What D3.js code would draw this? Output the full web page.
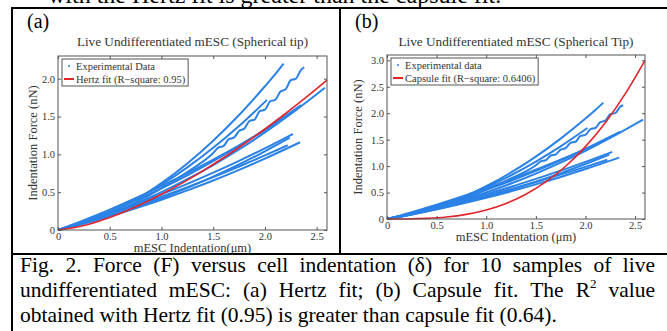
<!DOCTYPE html>
<html>
<head>
<meta charset="utf-8">
<script src="https://cdn.jsdelivr.net/npm/d3@7"></script>
<style>
  body { margin: 0; background: #fff; }
  svg { display: block; font-family: "Liberation Serif", "Times New Roman", serif; }
</style>
</head>
<body>
<svg id="chart" width="667" height="331"></svg>
<script>
// tick values and labels
const xTicks = [0, 0.5, 1.0, 1.5, 2.0, 2.5];
const xTickLabels = ["0", "0.5", "1.0", "1.5", "2.0", "2.5"];
const yTicksA = [0, 0.5, 1.0, 1.5, 2.0];
const yTickLabelsA = ["0", "0.5", "1.0", "1.5", "2.0"];
const yTicksB = [0, 0.5, 1.0, 1.5, 2.0, 2.5, 3.0];
const yTickLabelsB = ["0", "0.5", "1.0", "1.5", "2.0", "2.5", "3.0"];

// experimental curves, [indentation (um), force (nN)]
const sample1 = [[0,0],[0.25,0.093],[0.5,0.228],[0.75,0.40],[1.0,0.62],[1.25,0.88],[1.5,1.18],[1.75,1.52],[2.0,1.90],[2.1,2.06],[2.18,2.2]];
const sample2 = [[0,0],[0.25,0.104],[0.5,0.238],[0.75,0.404],[1.0,0.6],[1.25,0.827],[1.5,1.086],[1.75,1.374],[2.02,1.72]];
const sample3 = [[0,0],[0.25,0.09],[0.5,0.211],[0.75,0.364],[1.0,0.55],[1.25,0.767],[1.5,1.017],[1.55,1.09],[1.6,1.11],[1.65,1.20],[1.7,1.22],[1.75,1.31],[1.8,1.34],[1.85,1.44],[1.9,1.46],[1.95,1.57],[2.0,1.59],[2.05,1.70],[2.1,1.72],[2.15,1.83],[2.2,1.86],[2.25,1.98],[2.3,2.0],[2.35,2.12],[2.38,2.15]];
const sample4 = [[0,0],[0.25,0.098],[0.5,0.214],[0.75,0.348],[1.0,0.5],[1.25,0.671],[1.5,0.859],[1.75,1.065],[2.0,1.29],[2.25,1.533],[2.5,1.794],[2.58,1.88]];
const sample5 = [[0,0],[0.25,0.116],[0.5,0.247],[0.75,0.392],[1.0,0.55],[1.25,0.723],[1.5,0.91],[1.75,1.111],[2.0,1.326],[2.25,1.555],[2.35,1.65]];
const sample6 = [[0,0],[0.25,0.13],[0.5,0.27],[0.75,0.42],[1.0,0.58],[1.25,0.75],[1.5,0.93],[1.75,1.12],[2.0,1.32],[2.12,1.42]];
const sample7 = [[0,0],[0.25,0.104],[0.5,0.218],[0.75,0.339],[1.0,0.47],[1.25,0.609],[1.5,0.758],[1.75,0.914],[2.0,1.08],[2.27,1.27]];
const sample8 = [[0,0],[0.25,0.086],[0.5,0.185],[0.75,0.296],[1.0,0.42],[1.25,0.556],[1.5,0.705],[1.75,0.866],[2.0,1.04],[2.24,1.22]];
const sample9 = [[0,0],[0.25,0.087],[0.5,0.182],[0.75,0.287],[1.0,0.4],[1.25,0.523],[1.5,0.654],[1.75,0.795],[2.0,0.944],[2.34,1.16]];
const sample10 = [[0,0],[0.25,0.1],[0.5,0.207],[0.75,0.32],[1.0,0.44],[1.25,0.567],[1.5,0.699],[1.75,0.839],[2.0,0.986],[2.22,1.12]];
const samples = [sample1, sample2, sample3, sample4, sample5, sample6, sample7, sample8, sample9, sample10];

// fitted curves
const hertzFit = [[0,0],[0.2,0.042],[0.4,0.119],[0.6,0.219],[0.8,0.338],[1.0,0.472],[1.2,0.62],[1.4,0.782],[1.6,0.955],[1.8,1.14],[2.0,1.335],[2.2,1.54],[2.4,1.755],[2.6,1.98]];
const capsuleFit = [[0,0],[0.2,0.001],[0.4,0.011],[0.6,0.037],[0.8,0.088],[1.0,0.171],[1.2,0.295],[1.4,0.469],[1.6,0.70],[1.8,0.997],[2.0,1.368],[2.2,1.82],[2.4,2.364],[2.6,3.0]];

const topLine = "with the Hertz fit is greater than the capsule fit.";
const captionLines = [
  "Fig. 2. Force (F) versus cell indentation (δ) for 10 samples of live",
  "undifferentiated mESC: (a) Hertz fit; (b) Capsule fit. The R^2 value",
  "obtained with Hertz fit (0.95) is greater than capsule fit (0.64)."
];

const blue = "#2b82e6";
const red = "#e3242b";
const axisColor = "#555";

const svg = d3.select("#chart");
svg.append("rect").attr("width", 667).attr("height", 331).attr("fill", "#fff");

// body text cut off by the top of the page
svg.append("text")
  .attr("x", 48).attr("y", 3)
  .attr("font-size", 24)
  .text(topLine);

// table lines
const border = svg.append("g").attr("stroke", "#000").attr("stroke-width", 2);
border.append("line").attr("x1", 12).attr("x2", 667).attr("y1", 8).attr("y2", 8);
border.append("line").attr("x1", 12).attr("x2", 12).attr("y1", 7).attr("y2", 331);
border.append("line").attr("x1", 340).attr("x2", 340).attr("y1", 8).attr("y2", 254);
border.append("line").attr("x1", 12).attr("x2", 667).attr("y1", 254).attr("y2", 254);

function drawPanel(p) {
  const x = d3.scaleLinear().domain([0, 2.6]).range([p.left, p.right]);
  const y = d3.scaleLinear().domain([0, p.yMax]).range([p.bottom, p.top]);
  const g = svg.append("g");

  g.append("text")
    .attr("x", p.labelX).attr("y", 28)
    .attr("font-size", 20)
    .text(p.label);

  g.append("text")
    .attr("x", (p.left + p.right) / 2).attr("y", 46)
    .attr("text-anchor", "middle")
    .attr("font-size", 13.2)
    .attr("fill", "#333")
    .text(p.title);

  const line = d3.line()
    .x(d => x(d[0]))
    .y(d => y(d[1]))
    .curve(d3.curveMonotoneX);

  g.selectAll(".sample")
    .data(samples)
    .join("path")
    .attr("class", "sample")
    .attr("d", line)
    .attr("fill", "none")
    .attr("stroke", blue)
    .attr("stroke-width", 2);

  g.append("path")
    .datum(p.fit)
    .attr("d", line)
    .attr("fill", "none")
    .attr("stroke", red)
    .attr("stroke-width", 1.6);

  // axes, MATLAB style: ticks inward on all four sides
  const bottom = g.append("g")
    .attr("transform", `translate(0,${p.bottom})`)
    .call(d3.axisBottom(x).tickValues(xTicks).tickFormat((d, i) => xTickLabels[i])
      .tickSizeInner(-3).tickSizeOuter(0).tickPadding(3));
  const top = g.append("g")
    .attr("transform", `translate(0,${p.top})`)
    .call(d3.axisTop(x).tickValues(xTicks).tickFormat("").tickSizeInner(-3).tickSizeOuter(0));
  const left = g.append("g")
    .attr("transform", `translate(${p.left},0)`)
    .call(d3.axisLeft(y).tickValues(p.yTicks).tickFormat((d, i) => p.yTickLabels[i])
      .tickSizeInner(-3).tickSizeOuter(0).tickPadding(3));
  const right = g.append("g")
    .attr("transform", `translate(${p.right},0)`)
    .call(d3.axisRight(y).tickValues(p.yTicks).tickFormat("").tickSizeInner(-3).tickSizeOuter(0));

  [bottom, top, left, right].forEach(a => {
    a.select(".domain").remove();
    a.selectAll("line").attr("stroke", axisColor);
    a.selectAll("text")
      .attr("font-family", "Liberation Serif, Times New Roman, serif")
      .attr("font-size", 10.5)
      .attr("fill", "#333");
  });

  g.append("rect")
    .attr("x", p.left).attr("y", p.top)
    .attr("width", p.right - p.left).attr("height", p.bottom - p.top)
    .attr("fill", "none")
    .attr("stroke", axisColor)
    .attr("stroke-width", 1);

  g.append("text")
    .attr("x", (p.left + p.right) / 2).attr("y", p.bottom + 22)
    .attr("text-anchor", "middle")
    .attr("font-size", 12.5)
    .attr("fill", "#333")
    .text(p.xLabel);

  g.append("text")
    .attr("transform", `translate(${p.yLabelX},${(p.top + p.bottom) / 2}) rotate(-90)`)
    .attr("text-anchor", "middle")
    .attr("font-size", 12.5)
    .attr("fill", "#333")
    .text("Indentation Force (nN)");

  // legend
  const leg = g.append("g").attr("transform", `translate(${p.left + 4},${p.top + 3})`);
  const box = leg.append("rect")
    .attr("fill", "#fff")
    .attr("stroke", axisColor)
    .attr("stroke-width", 1);
  leg.append("circle").attr("cx", 7).attr("cy", 7).attr("r", 1).attr("fill", blue);
  leg.append("line").attr("x1", 2).attr("x2", 12).attr("y1", 20).attr("y2", 20)
    .attr("stroke", red).attr("stroke-width", 2);
  const t1 = leg.append("text").attr("x", 14).attr("y", 10.5).attr("font-size", 10.5).attr("fill", "#333").text(p.legend[0]);
  const t2 = leg.append("text").attr("x", 14).attr("y", 23.5).attr("font-size", 10.5).attr("fill", "#333").text(p.legend[1]);
  const w = Math.max(t1.node().getComputedTextLength(), t2.node().getComputedTextLength());
  box.attr("width", 14 + w + 3).attr("height", 27);
}

drawPanel({
  label: "(a)", labelX: 27,
  left: 58, right: 327, top: 56, bottom: 230, yMax: 2.3,
  yTicks: yTicksA, yTickLabels: yTickLabelsA,
  title: "Live Undifferentiated mESC (Spherical tip)",
  xLabel: "mESC Indentation(μm)", yLabelX: 37,
  fit: hertzFit,
  legend: ["Experimental Data", "Hertz fit (R\u2212square: 0.95)"]
});

drawPanel({
  label: "(b)", labelX: 355,
  left: 387, right: 645, top: 55, bottom: 219, yMax: 3.1,
  yTicks: yTicksB, yTickLabels: yTickLabelsB,
  title: "Live Undifferentiated mESC (Spherical Tip)",
  xLabel: "mESC Indentation (μm)", yLabelX: 362,
  fit: capsuleFit,
  legend: ["Experimental data", "Capsule fit (R\u2212square: 0.6406)"]
});

// caption, justified like the paper
const capLeft = 20, capRight = 655, capSize = 21.5;
const capBaselines = [272, 297, 322];

captionLines.forEach((ln, li) => {
  const words = ln.split(" ");
  const nodes = words.map(wd => {
    const t = svg.append("text").attr("y", capBaselines[li]).attr("font-size", capSize).attr("fill", "#000");
    if (wd.includes("^")) {
      const parts = wd.split("^");
      t.append("tspan").text(parts[0]);
      t.append("tspan").attr("dy", -9).attr("font-size", 13).text(parts[1]);
    } else {
      t.text(wd);
    }
    return t;
  });
  const widths = nodes.map(n => n.node().getComputedTextLength());
  const last = li === captionLines.length - 1;
  const gap = last ? capSize * 0.25 : (capRight - capLeft - d3.sum(widths)) / (words.length - 1);
  let cx = capLeft;
  nodes.forEach((n, i) => {
    n.attr("x", cx);
    cx += widths[i] + gap;
  });
});
</script>
</body>
</html>
